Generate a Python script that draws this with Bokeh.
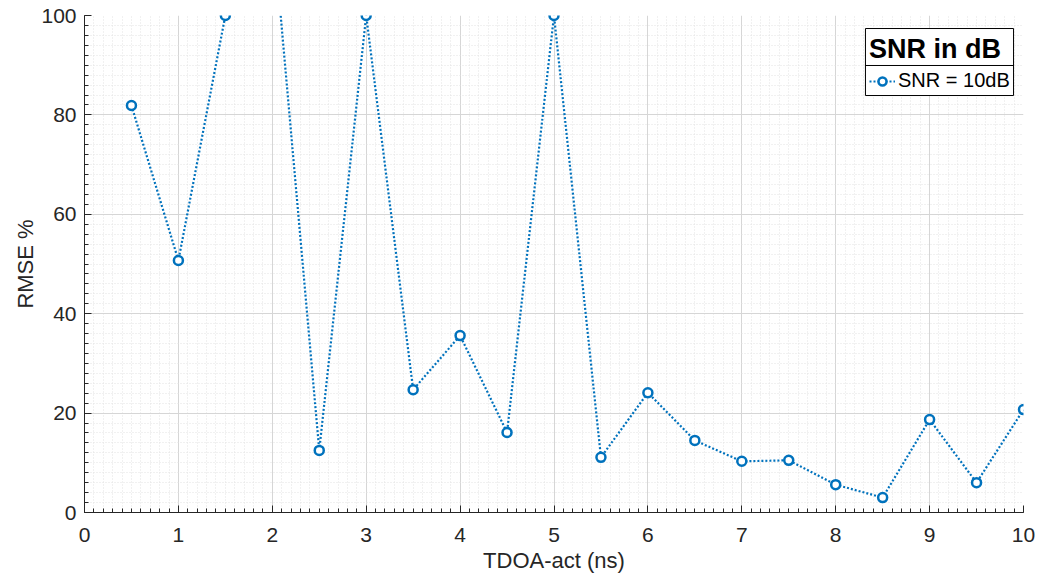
from bokeh.plotting import figure
from bokeh.models import Range1d, SingleIntervalTicker, Legend, LegendItem
from bokeh.embed import file_html
from bokeh.resources import INLINE

# ---- data ----
tdoa_ns = [0.5, 1.0, 1.5, 2.0, 2.5, 3.0, 3.5, 4.0, 4.5, 5.0,
           5.5, 6.0, 6.5, 7.0, 7.5, 8.0, 8.5, 9.0, 9.5, 10.0]
rmse_pct = [81.9, 50.7, 100.0, 119.0, 12.5, 100.0, 24.7, 35.6, 16.1, 100.0,
            11.1, 24.1, 14.5, 10.3, 10.5, 5.6, 3.0, 18.7, 6.0, 20.7]
series_label = "SNR = 10dB"
legend_title = "SNR in dB"
x_label = "TDOA-act (ns)"
y_label = "RMSE %"

FONT = "Liberation Sans"
TXT = "#262626"
BLUE = "#0072BD"

p = figure(frame_width=939, frame_height=497,
           x_range=Range1d(0, 10), y_range=Range1d(0, 100),
           output_backend="svg", toolbar_location=None,
           min_border_left=84, min_border_right=16,
           min_border_top=15, min_border_bottom=62)
p.outline_line_color = None
p.background_fill_color = "white"

p.xaxis.ticker = SingleIntervalTicker(interval=1, num_minor_ticks=10)
p.yaxis.ticker = SingleIntervalTicker(interval=20, num_minor_ticks=10)

for ax in (p.xaxis[0], p.yaxis[0]):
    ax.axis_line_color = TXT
    ax.axis_line_width = 1
    ax.major_tick_line_color = TXT
    ax.minor_tick_line_color = TXT
    ax.major_tick_in = 7
    ax.major_tick_out = 0
    ax.minor_tick_in = 4
    ax.minor_tick_out = 0
    ax.major_label_text_font = FONT
    ax.major_label_text_font_size = "21px"
    ax.major_label_text_color = TXT
    ax.axis_label_text_font = FONT
    ax.axis_label_text_font_size = "22px"
    ax.axis_label_text_font_style = "normal"
    ax.axis_label_text_color = TXT

p.xaxis.axis_label = x_label
p.yaxis.axis_label = y_label
p.xaxis.major_label_standoff = 15
p.xaxis.axis_label_standoff = 3
p.yaxis.major_label_standoff = 8
p.yaxis.axis_label_standoff = 0

for g in (p.xgrid[0], p.ygrid[0]):
    g.grid_line_color = "#d6d6d6"
    g.grid_line_width = 1
    g.minor_grid_line_color = "#e2e2e2"
    g.minor_grid_line_dash = "1 2"
    g.minor_grid_line_width = 1

line_r = p.line(tdoa_ns, rmse_pct, line_color=BLUE, line_width=2.2, line_dash="2 2")
pts_r = p.scatter(tdoa_ns, rmse_pct, marker="circle", size=9,
                  line_color=BLUE, line_width=2.5, fill_color="white")

# legend frame (white box + separator under the title), drawn beneath a transparent legend
p.quad(left=[8.317], right=[9.894], bottom=[83.9], top=[97.38],
       fill_color="white", line_color="black", line_width=1)
p.segment(x0=[8.317], x1=[9.894], y0=[89.94], y1=[89.94],
          line_color="black", line_width=1)

legend = Legend(items=[LegendItem(label=series_label, renderers=[line_r, pts_r])],
                title=legend_title, location=(785, 420))
legend.border_line_color = None
legend.background_fill_alpha = 0
legend.title_text_font = FONT
legend.title_text_font_size = "27px"
legend.title_text_font_style = "bold"
legend.title_text_color = "black"
legend.title_standoff = 4
legend.label_text_font = FONT
legend.label_text_font_size = "20px"
legend.label_text_color = "black"
legend.glyph_width = 26
legend.glyph_height = 20
legend.label_standoff = 3
legend.padding = 4
legend.spacing = 0
legend.margin = 0
p.add_layout(legend, "center")

open("out.html", "w").write(file_html(p, INLINE))
